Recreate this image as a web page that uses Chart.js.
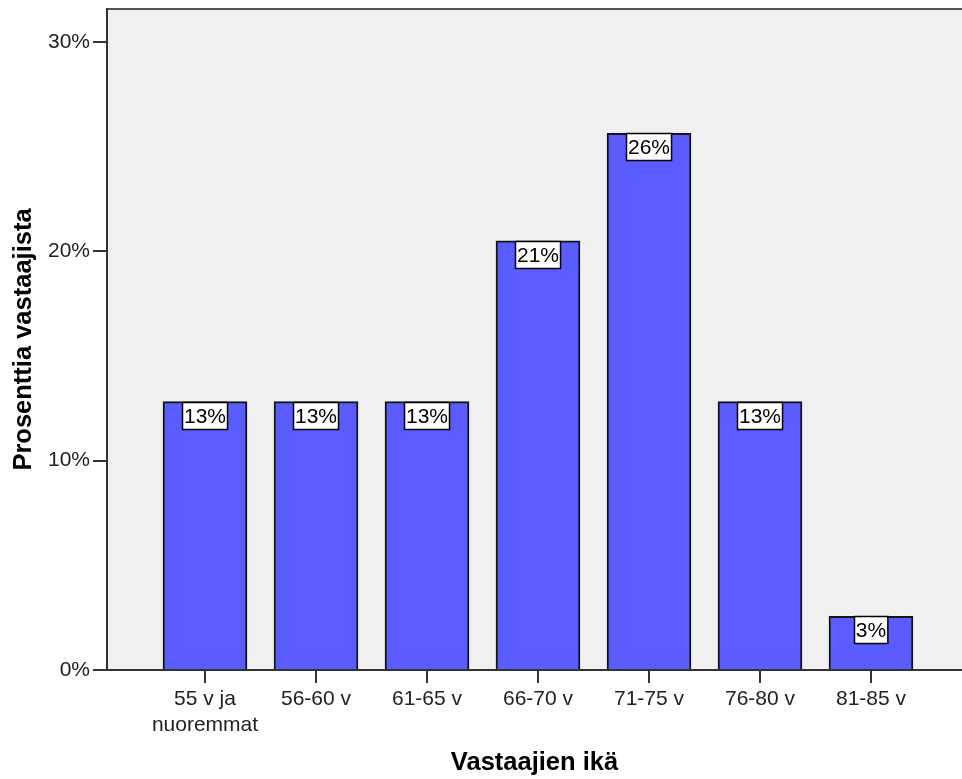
<!DOCTYPE html>
<html>
<head>
<meta charset="utf-8">
<script src="https://cdn.jsdelivr.net/npm/chart.js@4.4.1/dist/chart.umd.min.js"></script>
<style>
  html, body { margin: 0; padding: 0; background: #ffffff; }
  #wrap { width: 962px; height: 779px; }
</style>
</head>
<body>
<div id="wrap"><canvas id="ageChart" width="962" height="779"></canvas></div>
<script>
// age groups of respondents, share of respondents in percent (n = 39)
const ageGroups = [
  ["55 v ja", "nuoremmat"],
  "56-60 v",
  "61-65 v",
  "66-70 v",
  "71-75 v",
  "76-80 v",
  "81-85 v",
];
const agePercents = [12.82, 12.82, 12.82, 20.51, 25.64, 12.82, 2.56];
const yTickValues = [0, 10, 20, 30];

const tickFont = { family: "'Liberation Sans', Arial, sans-serif", size: 21 };
const titleFont = {
  family: "'Liberation Sans', Arial, sans-serif",
  size: 25.5,
  weight: "bold",
  lineHeight: 1,
};

// grey plot background and the top frame line
const plotBackground = {
  id: "plotBackground",
  beforeDraw(chart) {
    const { ctx, chartArea } = chart;
    ctx.save();
    ctx.fillStyle = "#f0f0f0";
    ctx.fillRect(
      chartArea.left,
      chartArea.top,
      chartArea.right - chartArea.left,
      chartArea.bottom - chartArea.top
    );
    ctx.strokeStyle = "#555555";
    ctx.lineWidth = 2;
    ctx.beginPath();
    ctx.moveTo(chartArea.left, chartArea.top);
    ctx.lineTo(chartArea.right, chartArea.top);
    ctx.stroke();
    ctx.restore();
  },
};

// white value boxes hanging from the top of every bar
const valueBoxes = {
  id: "valueBoxes",
  afterDatasetsDraw(chart) {
    const { ctx } = chart;
    const meta = chart.getDatasetMeta(0);
    ctx.save();
    ctx.font = "21px 'Liberation Sans', Arial, sans-serif";
    ctx.textAlign = "center";
    ctx.textBaseline = "middle";
    meta.data.forEach((bar, i) => {
      const text = Math.round(agePercents[i]) + "%";
      const w = ctx.measureText(text).width + 3;
      const h = 27;
      const x = Math.round(bar.x - w / 2) + 0.5;
      const y = Math.round(bar.y) + 0.5;
      ctx.fillStyle = "#ffffff";
      ctx.fillRect(x, y, w, h);
      ctx.strokeStyle = "#000000";
      ctx.lineWidth = 1.5;
      ctx.strokeRect(x, y, w, h);
      ctx.fillStyle = "#000000";
      ctx.fillText(text, bar.x, y + h / 2 + 1);
    });
    ctx.restore();
  },
};

const ctx = document.getElementById("ageChart").getContext("2d");

const ageChart = new Chart(ctx, {
  type: "bar",
  data: {
    datasets: [
      {
        data: agePercents.map((v, i) => ({ x: i + 1, y: v })),
        backgroundColor: "#5a5cff",
        borderColor: "#151515",
        borderWidth: 2,
        barThickness: 84,
      },
    ],
  },
  options: {
    responsive: false,
    animation: false,
    layout: {
      padding: { top: 9, left: 0, right: 0, bottom: 0 },
    },
    plugins: {
      legend: { display: false },
      tooltip: { enabled: false },
    },
    scales: {
      x: {
        type: "linear",
        offset: false,
        min: 0.117,
        max: 7.82,
        afterFit: (scale) => {
          scale.height = 109;
          scale.paddingLeft = 0;
          scale.paddingRight = 0;
        },
        afterBuildTicks: (scale) => {
          scale.ticks = ageGroups.map((_, i) => ({ value: i + 1 }));
        },
        ticks: {
          autoSkip: false,
          maxRotation: 0,
          padding: 4,
          color: "#222222",
          font: tickFont,
          callback: (value) => ageGroups[value - 1],
        },
        grid: {
          offset: false,
          drawOnChartArea: false,
          drawTicks: true,
          tickLength: 13,
          color: "#333333",
          lineWidth: 2,
        },
        border: { display: true, color: "#333333", width: 2 },
        title: {
          display: true,
          text: "Vastaajien ikä",
          color: "#000000",
          font: titleFont,
          padding: { top: 0, bottom: 3 },
        },
      },
      y: {
        min: 0,
        max: 31.58,
        afterFit: (scale) => {
          scale.width = 107;
          scale.paddingTop = 0;
          scale.paddingBottom = 0;
        },
        afterBuildTicks: (scale) => {
          scale.ticks = yTickValues.map((v) => ({ value: v }));
        },
        ticks: {
          padding: 3,
          color: "#222222",
          font: tickFont,
          callback: (value) => value + "%",
        },
        grid: {
          drawOnChartArea: false,
          drawTicks: true,
          tickLength: 14,
          color: "#333333",
          lineWidth: 2,
        },
        border: { display: true, color: "#333333", width: 2 },
        title: {
          display: true,
          text: "Prosenttia vastaajista",
          color: "#000000",
          font: titleFont,
          padding: { top: 11, bottom: 0 },
        },
      },
    },
  },
  plugins: [plotBackground, valueBoxes],
});
</script>
</body>
</html>
